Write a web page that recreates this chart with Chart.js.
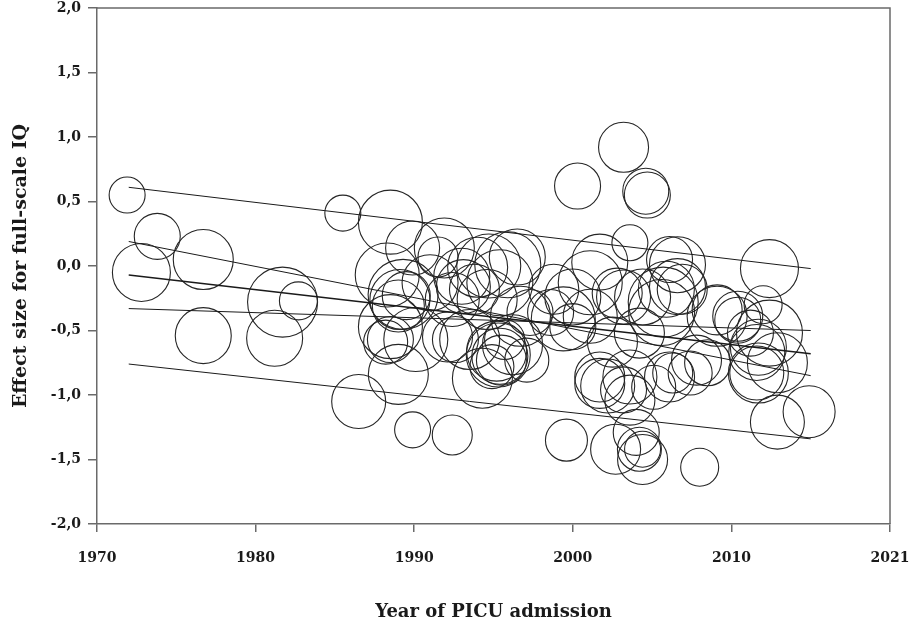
<!DOCTYPE html>
<html>
<head>
<meta charset="utf-8">
<script src="https://cdn.jsdelivr.net/npm/chart.js@4.4.1/dist/chart.umd.min.js"></script>
<style>
  html, body { margin: 0; padding: 0; background: #ffffff; }
  #wrap { width: 912px; height: 627px; position: relative; }
</style>
</head>
<body>
<div id="wrap"><canvas id="c" width="912" height="627"></canvas></div>
<script>
// ---- Data ----
const years = [
  1971.9, 1973.8, 1972.8, 1976.7, 1981.7, 1982.7, 1976.7, 1981.2, 1985.5, 1986.5,
  1988.5, 1989.9, 1991.9, 1991.5, 1988.3, 1989.3, 1989.1, 1989.0, 1989.5, 1991.0,
  1993.0, 1994.7, 1993.8, 1992.4, 1988.5, 1990.1, 1989.0, 1989.9, 1992.4, 1992.6,
  1994.3, 1994.9, 1995.3, 1995.4, 1995.5, 1995.2, 1995.7, 1993.5, 1992.1, 1994.6,
  1995.9, 1995.4, 1996.7, 1994.0, 1993.1, 1988.5, 1988.2, 1996.2, 1996.5, 1997.3,
  2000.3, 2003.2, 2004.6, 2004.7, 2003.6, 2001.7, 2006.6, 2006.1, 2012.4, 2012.0,
  2005.7, 2005.6, 2006.6, 2000.0, 2001.1, 2003.2, 2009.1, 2010.4, 2012.4, 2011.6,
  2011.6, 2001.7, 2003.6, 2006.1, 2007.8, 2002.5, 2004.2, 2000.0, 1998.6, 2012.9,
  2014.9, 1999.6, 2002.7, 2004.0, 2004.4, 2004.2, 2008.0, 2003.6, 2002.2, 2006.9,
  2009.1, 2010.4, 2011.2, 2011.7, 2011.7, 2012.9, 2007.4, 2006.3, 2008.5, 1998.8,
  2002.8, 2004.4, 1999.4, 2001.1, 2005.9, 2001.7, 2003.2, 2005.1, 2004.4, 1997.1
];
const effects = [
   0.55,  0.23, -0.05,  0.05, -0.28, -0.27, -0.54, -0.56,  0.41, -1.05,
   0.34,  0.14,  0.14,  0.07, -0.07, -0.22, -0.26, -0.31, -0.23, -0.13,
  -0.08,  0.00, -0.18, -0.26, -0.57, -0.57, -0.84, -1.27, -1.31, -0.57,
  -0.87, -0.78, -0.69, -0.70, -0.73, -0.66, -0.57, -0.57, -0.55, -0.26,
   0.01, -0.13, -0.39, -0.01, -0.16, -0.47, -0.59, -0.61,  0.07, -0.36,
   0.62,  0.92,  0.58,  0.55,  0.18,  0.03,  0.01,  0.05, -0.02, -0.30,
  -0.28, -0.36, -0.16, -0.24, -0.13, -0.24, -0.39, -0.42, -0.52, -0.67,
  -0.83, -0.86, -0.86, -0.86, -0.73, -0.59, -0.52, -0.47, -0.36, -1.21,
  -1.13, -1.35, -1.42, -1.29, -1.50, -1.42, -1.56, -1.04, -0.93, -0.18,
  -0.34, -0.39, -0.52, -0.63, -0.83, -0.75, -0.83, -0.83, -0.75, -0.18,
  -0.21, -0.24, -0.41, -0.39, -0.18, -0.91, -0.96, -0.94, -1.42, -0.73
];
const sizes = [
  18, 23, 29, 30, 35, 19, 28, 28, 18, 27,
  32, 27, 30, 20, 32, 35, 30, 26, 24, 28,
  28, 32, 25, 27, 23, 32, 30, 18, 20, 23,
  30, 22, 32, 28, 25, 30, 20, 30, 25, 30,
  33, 33, 30, 30, 27, 32, 22, 30, 28, 23,
  23, 25, 23, 23, 18, 28, 28, 23, 29, 19,
  35, 33, 28, 28, 32, 27, 30, 23, 33, 28,
  27, 25, 27, 25, 25, 25, 25, 23, 23, 27,
  26, 21, 25, 23, 25, 22, 19, 25, 27, 25,
  25, 25, 23, 28, 30, 30, 22, 20, 23, 25,
  25, 28, 32, 27, 28, 25, 23, 22, 18, 22
];

// Regression lines (start at 1972, end at 2015)
const lineYears = [1972, 2015];
const regMean  = [-0.07, -0.68];
const ciUpper  = [ 0.19, -0.85];
const ciLower  = [-0.33, -0.50];
const piUpper  = [ 0.61, -0.02];
const piLower  = [-0.76, -1.34];

const xTickValues = [1970, 1980, 1990, 2000, 2010, 2020];
const xTickLabels = ['1970', '1980', '1990', '2000', '2010', '2021'];
const yTickValues = [-2, -1.5, -1, -0.5, 0, 0.5, 1, 1.5, 2];
const yTickLabels = ['-2,0', '-1,5', '-1,0', '-0,5', '0,0', '0,5', '1,0', '1,5', '2,0'];
const xTitle = 'Year of PICU admission';
const yTitle = 'Effect size for full-scale IQ';

// ---- Build datasets ----
const bubbleData = years.map((x, i) => ({ x: x, y: effects[i], r: sizes[i] }));
function lineData(vals) { return lineYears.map((x, i) => ({ x: x, y: vals[i] })); }
function lineDs(vals, w) {
  return {
    type: 'line', data: lineData(vals), borderColor: '#1a1a1a', borderWidth: w,
    pointRadius: 0, fill: false, tension: 0, order: 0
  };
}

const boxPlugin = {
  id: 'box',
  afterDraw(chart) {
    const a = chart.chartArea, ctx = chart.ctx;
    ctx.save();
    ctx.strokeStyle = '#6a6a6a';
    ctx.lineWidth = 1.5;
    ctx.beginPath();
    ctx.moveTo(a.left, a.top);
    ctx.lineTo(a.right, a.top);
    ctx.lineTo(a.right, a.bottom);
    ctx.stroke();
    ctx.restore();
  }
};

Chart.defaults.font.family = "'DejaVu Serif', 'Liberation Serif', serif";
Chart.defaults.font.weight = 'bold';
Chart.defaults.color = '#1a1a1a';

new Chart(document.getElementById('c'), {
  type: 'bubble',
  data: {
    datasets: [
      {
        type: 'bubble', data: bubbleData, backgroundColor: 'rgba(0,0,0,0)',
        borderColor: '#262626', borderWidth: 1.1, hoverBorderWidth: 1.1, order: 1
      },
      lineDs(piUpper, 1),
      lineDs(ciUpper, 1),
      lineDs(regMean, 1.6),
      lineDs(ciLower, 1),
      lineDs(piLower, 1)
    ]
  },
  options: {
    responsive: false,
    animation: false,
    devicePixelRatio: 1,
    layout: { autoPadding: false, padding: { top: 8, right: 22, left: 0, bottom: 0 } },
    plugins: { legend: { display: false }, tooltip: { enabled: false } },
    scales: {
      x: {
        type: 'linear', min: 1970, max: 2020,
        afterFit(s) { s.height = 103; s.paddingLeft = 0; s.paddingRight = 0; },
        afterBuildTicks(s) { s.ticks = xTickValues.map(v => ({ value: v })); },
        ticks: {
          callback: (v, i) => xTickLabels[i],
          font: { size: 14, weight: 'bold' }, padding: 18, maxRotation: 0, color: '#1a1a1a'
        },
        grid: { drawOnChartArea: false, drawTicks: true, tickLength: 8, color: '#6a6a6a', lineWidth: 1.5 },
        border: { display: true, color: '#6a6a6a', width: 1.5 },
        title: {
          display: true, text: xTitle, font: { size: 18, weight: 'bold' },
          padding: { top: 0, bottom: 4 }, color: '#1a1a1a'
        }
      },
      y: {
        type: 'linear', min: -2, max: 2,
        afterFit(s) { s.width = 97; s.paddingTop = 0; s.paddingBottom = 0; },
        afterBuildTicks(s) { s.ticks = yTickValues.map(v => ({ value: v })); },
        ticks: {
          callback: (v, i) => yTickLabels[i],
          font: { size: 14, weight: 'bold' }, padding: 7, color: '#1a1a1a'
        },
        grid: { drawOnChartArea: false, drawTicks: true, tickLength: 9, color: '#6a6a6a', lineWidth: 1.5 },
        border: { display: true, color: '#6a6a6a', width: 1.5 },
        title: {
          display: true, text: yTitle, font: { size: 19, weight: 'bold' },
          padding: { top: 10, bottom: 0 }, color: '#1a1a1a'
        }
      }
    }
  },
  plugins: [boxPlugin]
});
</script>
</body>
</html>
